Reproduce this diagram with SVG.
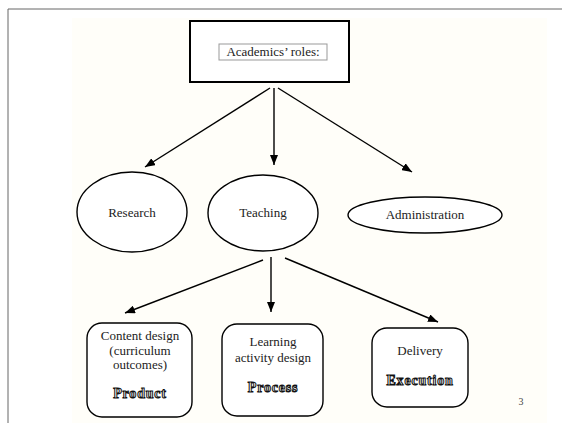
<svg xmlns="http://www.w3.org/2000/svg" width="562" height="423" viewBox="0 0 562 423" font-family="'Liberation Serif', 'Times New Roman', serif">
<defs>
<marker id="ah" viewBox="0 0 10 8" refX="10" refY="4" markerWidth="10" markerHeight="8" markerUnits="userSpaceOnUse" orient="auto">
<path d="M0,0 L10,4 L0,8 z" fill="#000"/>
</marker>
<style>
.t{font-family:'Liberation Serif','Times New Roman',serif;font-size:13px;fill:#222;text-anchor:middle}
.o{font-family:'Liberation Serif','Times New Roman',serif;font-size:14px;font-weight:bold;fill:#fff;stroke:#111;stroke-width:1;text-anchor:middle;letter-spacing:0.8px}
.n{fill:#fff;stroke:#000;stroke-width:1.4}
.c{stroke:#000;stroke-width:1.4;fill:none;marker-end:url(#ah)}
</style>
</defs>
<rect width="562" height="423" fill="#fff"/>
<rect x="72" y="18" width="475" height="405" fill="#fffef9"/>
<path d="M562,9 H8 V423" fill="none" stroke="#666" stroke-width="1"/>
<text x="521" y="405" font-size="10" fill="#444" text-anchor="middle">3</text>

<g id="connectors">
<line class="c" x1="270" y1="88" x2="145" y2="167"/>
<line class="c" x1="274" y1="88" x2="274" y2="165"/>
<line class="c" x1="278" y1="88" x2="412" y2="172"/>
<line class="c" x1="263" y1="260" x2="125" y2="313"/>
<line class="c" x1="271" y1="257" x2="271" y2="312"/>
<line class="c" x1="285" y1="258" x2="438" y2="322"/>
</g>

<g id="roles">
<rect x="190" y="21" width="159" height="61" fill="#fff" stroke="#000" stroke-width="2"/>
<rect x="219" y="44" width="108" height="16" fill="none" stroke="#999" stroke-width="1"/>
<text class="t" x="273" y="56">Academics’ roles:</text>
</g>

<g id="research">
<ellipse class="n" cx="132" cy="212" rx="55" ry="40"/>
<text class="t" x="132" y="217">Research</text>
</g>
<g id="teaching">
<ellipse class="n" cx="263" cy="213" rx="55" ry="38"/>
<text class="t" x="263" y="217">Teaching</text>
</g>
<g id="administration">
<ellipse class="n" cx="425" cy="215" rx="77" ry="18"/>
<text class="t" x="425" y="219">Administration</text>
</g>

<g id="content">
<rect class="n" x="87" y="323" width="105" height="94" rx="15"/>
<text class="t" x="140" y="340">Content design</text>
<text class="t" x="140" y="355">(curriculum</text>
<text class="t" x="140" y="369">outcomes)</text>
<text class="o" x="140" y="398">Product</text>
</g>
<g id="learning">
<rect class="n" x="222" y="324" width="101" height="92" rx="15"/>
<text class="t" x="273" y="346">Learning</text>
<text class="t" x="273" y="362">activity design</text>
<text class="o" x="273" y="392">Process</text>
</g>
<g id="delivery">
<rect class="n" x="372" y="328" width="96" height="79" rx="15"/>
<text class="t" x="420" y="355">Delivery</text>
<text class="o" x="420" y="385">Execution</text>
</g>
</svg>
